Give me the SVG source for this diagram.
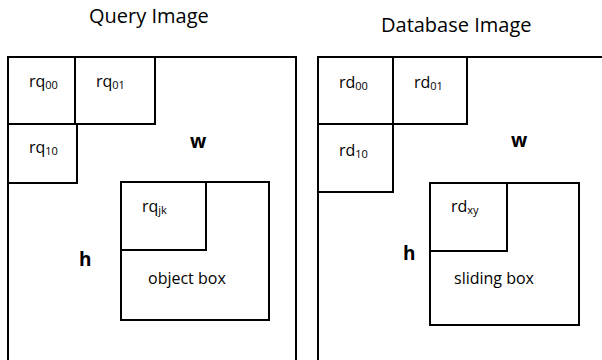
<svg xmlns="http://www.w3.org/2000/svg" width="602" height="360" viewBox="0 0 602 360">
  <style>
    .box { fill: none; stroke: #000; stroke-width: 2; }
    .title { font-family: "Open Sans", "Noto Sans", sans-serif; font-size: 20px; fill: #000; }
    .lbl { font-family: "Open Sans", "Noto Sans", sans-serif; font-size: 16px; fill: #000; }
    .sub { font-size: 11px; }
    .dim { font-family: "Open Sans", "Noto Sans", sans-serif; font-size: 19px; font-weight: bold; fill: #000; }
  </style>
  <rect width="602" height="360" fill="#fff"/>

  <g id="query-image">
    <text class="title" x="89" y="23">Query Image</text>
    <rect class="box" x="8" y="57" width="288" height="320"/>
    <g id="rq00"><rect class="box" x="8" y="57" width="67" height="67"/><text class="lbl" x="29" y="87">rq<tspan class="sub" dy="2">00</tspan></text></g>
    <g id="rq01"><rect class="box" x="75" y="57" width="80" height="67"/><text class="lbl" x="96" y="87">rq<tspan class="sub" dy="2">01</tspan></text></g>
    <g id="rq10"><rect class="box" x="8" y="124" width="69" height="59"/><text class="lbl" x="29" y="153">rq<tspan class="sub" dy="2">10</tspan></text></g>
    <text class="dim" x="190" y="148">w</text>
    <text class="dim" x="79" y="266">h</text>
    <g id="object-box">
      <rect class="box" x="121" y="182" width="148" height="138"/>
      <text class="lbl" x="148" y="284">object box</text>
    </g>
    <g id="rqjk"><rect class="box" x="121" y="182" width="85" height="68"/><text class="lbl" x="142" y="212">rq<tspan class="sub" dy="2">jk</tspan></text></g>
  </g>

  <g id="database-image">
    <text class="title" x="381" y="32">Database Image</text>
    <rect class="box" x="318" y="57" width="300" height="320"/>
    <g id="rd00"><rect class="box" x="318" y="57" width="75" height="67"/><text class="lbl" x="339" y="88">rd<tspan class="sub" dy="2">00</tspan></text></g>
    <g id="rd01"><rect class="box" x="393" y="57" width="74" height="67"/><text class="lbl" x="414" y="88">rd<tspan class="sub" dy="2">01</tspan></text></g>
    <g id="rd10"><rect class="box" x="318" y="124" width="75" height="68"/><text class="lbl" x="339" y="156">rd<tspan class="sub" dy="2">10</tspan></text></g>
    <text class="dim" x="511" y="147">w</text>
    <text class="dim" x="403" y="260">h</text>
    <g id="sliding-box">
      <rect class="box" x="430" y="183" width="149" height="142"/>
      <text class="lbl" x="454" y="284">sliding box</text>
    </g>
    <g id="rdxy"><rect class="box" x="430" y="183" width="77" height="68"/><text class="lbl" x="451" y="212">rd<tspan class="sub" dy="2">xy</tspan></text></g>
  </g>

  <g id="connectors"/>
</svg>
